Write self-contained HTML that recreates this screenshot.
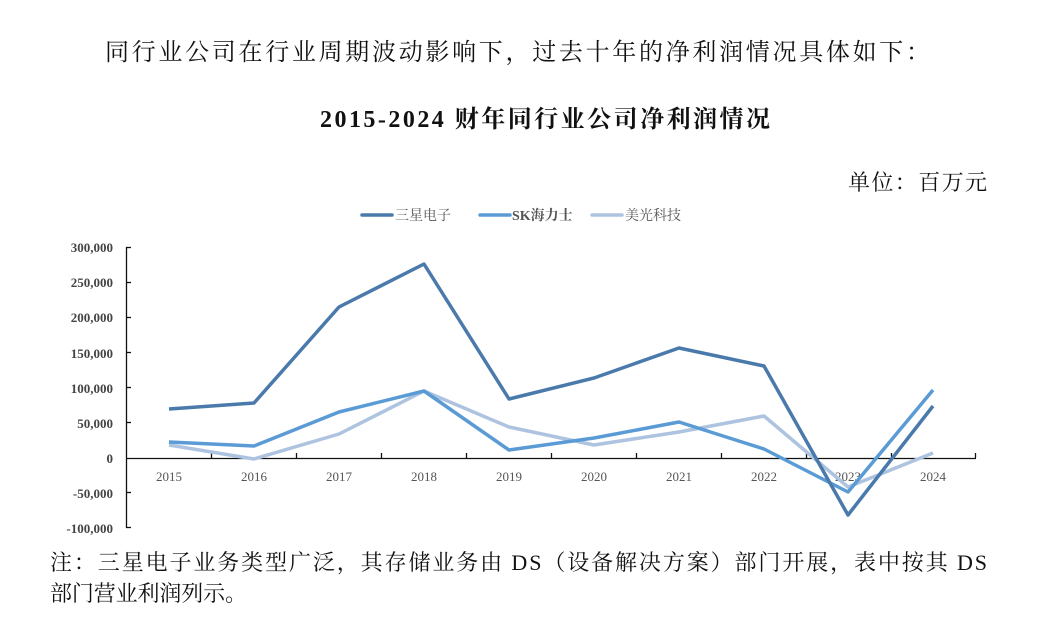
<!DOCTYPE html>
<html><head><meta charset="utf-8"><style>
html,body{margin:0;padding:0;background:#fff;}
svg{display:block;}
text{font-family:"Liberation Serif","Noto Serif CJK SC",serif;}
</style></head><body>
<svg width="1047" height="621" viewBox="0 0 1047 621" xmlns="http://www.w3.org/2000/svg">
<text x="105" y="60" font-size="24" fill="#111" textLength="825" lengthAdjust="spacing">同行业公司在行业周期波动影响下，过去十年的净利润情况具体如下：</text>
<text x="320" y="127" font-size="24" font-weight="bold" fill="#111" textLength="450" lengthAdjust="spacing">2015-2024 财年同行业公司净利润情况</text>
<text x="848" y="190" font-size="22" fill="#111" textLength="139" lengthAdjust="spacing">单位：百万元</text>

<g stroke-width="3.5" stroke-linecap="round">
<line x1="362" y1="215" x2="392" y2="215" stroke="#4a7aab"/>
<line x1="480" y1="215" x2="510" y2="215" stroke="#5b9bd5"/>
<line x1="592" y1="215" x2="622" y2="215" stroke="#adc3e0"/>
</g>
<g font-size="14" fill="#555">
<text x="395" y="220">三星电子</text>
<text x="512" y="220" font-weight="bold">SK海力士</text>
<text x="625" y="220">美光科技</text>
</g>

<g font-size="13" fill="#444" text-anchor="end" font-weight="bold">
<text x="113" y="252">300,000</text>
<text x="113" y="287">250,000</text>
<text x="113" y="322">200,000</text>
<text x="113" y="358">150,000</text>
<text x="113" y="393">100,000</text>
<text x="113" y="428">50,000</text>
<text x="113" y="463">0</text>
<text x="113" y="498">-50,000</text>
<text x="113" y="533">-100,000</text>
</g>
<g stroke="#111" stroke-width="1.3" fill="none">
<line x1="126.5" y1="247" x2="126.5" y2="528"/>
<line x1="126" y1="247.5" x2="131" y2="247.5"/>
<line x1="126" y1="282.5" x2="131" y2="282.5"/>
<line x1="126" y1="317.5" x2="131" y2="317.5"/>
<line x1="126" y1="352.5" x2="131" y2="352.5"/>
<line x1="126" y1="387.5" x2="131" y2="387.5"/>
<line x1="126" y1="422.5" x2="131" y2="422.5"/>
<line x1="126" y1="492.5" x2="131" y2="492.5"/>
<line x1="126" y1="527.5" x2="131" y2="527.5"/>
<line x1="126" y1="458.5" x2="976" y2="458.5"/>
<path d="M211.5 458v-5M296.5 458v-5M381.5 458v-5M466.5 458v-5M551.5 458v-5M636.5 458v-5M721.5 458v-5M806.5 458v-5M891.5 458v-5M975.5 458v-5"/>
</g>
<g font-size="13" fill="#555" text-anchor="middle">
<text x="169" y="481">2015</text><text x="254" y="481">2016</text><text x="339" y="481">2017</text>
<text x="424" y="481">2018</text><text x="509" y="481">2019</text><text x="594" y="481">2020</text>
<text x="679" y="481">2021</text><text x="764" y="481">2022</text><text x="848" y="481">2023</text>
<text x="933" y="481">2024</text>
</g>
<g fill="none" stroke-width="3.5" stroke-linejoin="round">
<polyline stroke="#adc3e0" points="169,445 254,459 339,434 424,391 509,427 594,445 679,432 764,416 848,487 933,453"/>
<polyline stroke="#5b9bd5" points="169,442 254,446 339,412 424,391 509,450 594,438 679,422 764,449 848,492 933,390"/>
<polyline stroke="#4a7aab" points="169,409 254,403 339,307 424,264 509,399 594,378 679,348 764,366 848,515 933,406"/>
</g>

<text x="50" y="570" font-size="22" fill="#111" textLength="937" lengthAdjust="spacing">注：三星电子业务类型广泛，其存储业务由 DS（设备解决方案）部门开展，表中按其 DS</text>
<text x="50" y="601" font-size="22" fill="#111" textLength="197" lengthAdjust="spacing">部门营业利润列示。</text>
</svg>
</body></html>
